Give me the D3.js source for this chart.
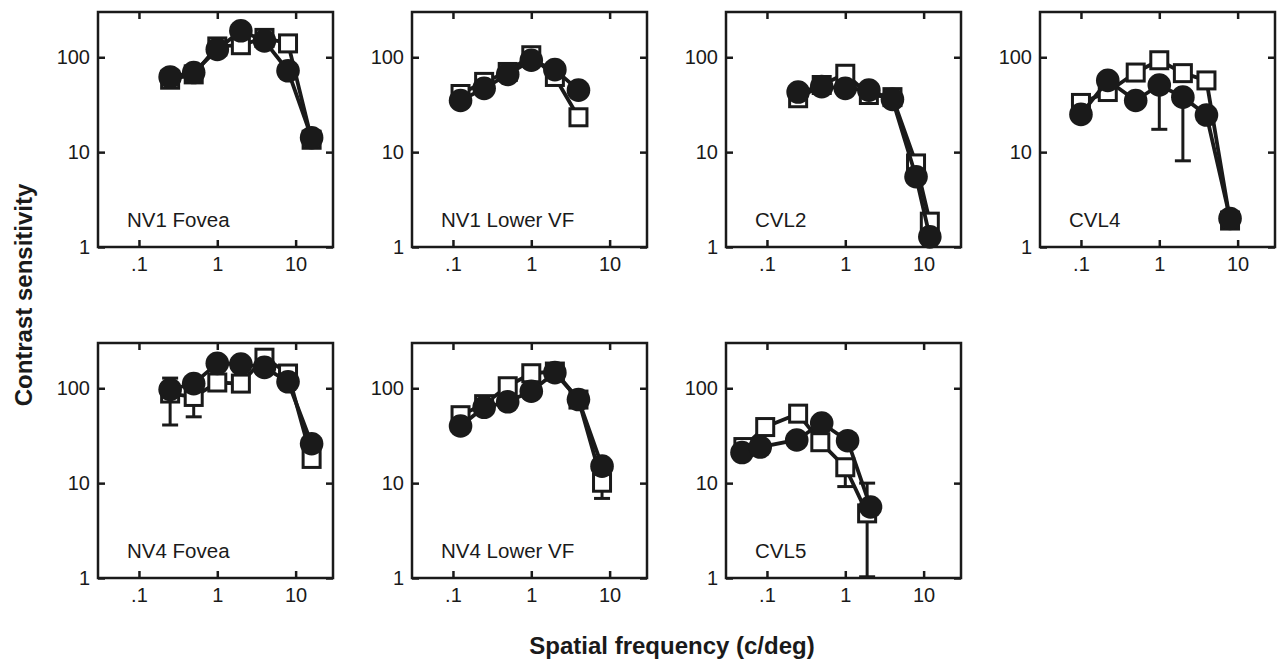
<!DOCTYPE html>
<html>
<head>
<meta charset="utf-8">
<script src="https://cdn.jsdelivr.net/npm/d3@7"></script>
<style>
  body { margin: 0; background: #fff; }
  svg { display: block; }
  text { font-family: "Liberation Sans", Arial, sans-serif; fill: #1a1a1a; }
</style>
</head>
<body>
<div id="vis"></div>
<script>
// contrast sensitivity panels, log-log, filled circles vs open squares

const PANEL_LABELS = ["NV1 Fovea", "NV1 Lower VF", "CVL2", "CVL4", "NV4 Fovea", "NV4 Lower VF", "CVL5"];
const X_TICKS = [0.1, 1, 10];
const Y_TICKS = [1, 10, 100];

// NV1 Fovea
const nv1FovSF = [0.25, 0.5, 1, 2, 4, 8, 16];
const nv1FovFilled = [62, 69, 121, 190, 149, 72, 14.2];
const nv1FovOpen = [58, 66, 130, 134, 160, 140, 13.5];

// NV1 Lower VF
const nv1LowSF = [0.125, 0.25, 0.5, 1, 2, 4];
const nv1LowFilled = [35, 47, 66, 93, 74, 45];
const nv1LowOpen = [41, 55, 70, 105, 62, 23.3];

// CVL2
const cvl2SF = [0.25, 0.5, 1, 2, 4, 8, 12];
const cvl2Filled = [43, 49, 47, 45, 36, 5.5, 1.28];
const cvl2Open = [37, 51, 67, 40, 38, 7.6, 1.85];

// CVL4
const cvl4SF = [0.1, 0.22, 0.5, 1, 2, 4, 8];
const cvl4Filled = [25, 57, 35, 51, 38, 24.6, 2.0];
const cvl4FilledLo = [null, null, null, 17.4, 8.1, null, null];
const cvl4Open = [33, 43, 69, 93, 68, 57, 1.9];

// NV4 Fovea
const nv4FovSF = [0.25, 0.5, 1, 2, 4, 8, 16];
const nv4FovFilled = [97, 112, 183, 180, 166, 117, 26];
const nv4FovOpen = [88, 81, 115, 112, 210, 143, 18];
const nv4FovOpenLo = [41, 50, null, null, null, null, null];
const nv4FovOpenHi = [128, null, null, null, null, null, null];

// NV4 Lower VF
const nv4LowSF = [0.125, 0.25, 0.5, 1, 2, 4, 8];
const nv4LowFilled = [40, 63, 72, 93, 146, 76, 15.1];
const nv4LowOpen = [52, 68, 105, 144, 150, 76, 10.1];
const nv4LowOpenLo = [null, null, null, null, null, null, 6.9];

// CVL5
const cvl5FilledSF = [0.048, 0.082, 0.24, 0.5, 1.07, 2.1];
const cvl5Filled = [21, 24, 28.5, 43, 28, 5.6];
const cvl5OpenSF = [0.05, 0.095, 0.25, 0.48, 1.0, 1.9];
const cvl5Open = [24, 39, 54, 27, 14.7, 4.8];
const cvl5OpenLo = [null, null, null, null, 9.2, 1.03];
const cvl5OpenHi = [null, null, null, null, null, 10];

const PANELS = [
  {filled: {sf: nv1FovSF, v: nv1FovFilled}, open: {sf: nv1FovSF, v: nv1FovOpen}},
  {filled: {sf: nv1LowSF, v: nv1LowFilled}, open: {sf: nv1LowSF, v: nv1LowOpen}},
  {filled: {sf: cvl2SF, v: cvl2Filled}, open: {sf: cvl2SF, v: cvl2Open}},
  {filled: {sf: cvl4SF, v: cvl4Filled, lo: cvl4FilledLo}, open: {sf: cvl4SF, v: cvl4Open}},
  {filled: {sf: nv4FovSF, v: nv4FovFilled}, open: {sf: nv4FovSF, v: nv4FovOpen, lo: nv4FovOpenLo, hi: nv4FovOpenHi}},
  {filled: {sf: nv4LowSF, v: nv4LowFilled}, open: {sf: nv4LowSF, v: nv4LowOpen, lo: nv4LowOpenLo}},
  {filled: {sf: cvl5FilledSF, v: cvl5Filled}, open: {sf: cvl5OpenSF, v: cvl5Open, lo: cvl5OpenLo, hi: cvl5OpenHi}}
];

const FRAME_WIDTH = 1277;
const FRAME_HEIGHT = 660;
const PANEL_SIZE = 235;
const PANEL_LEFT = 98, PANEL_TOP = 12;
const STEP_X = 314, STEP_Y = 331;
const INK = "#1a1a1a";

const svg = d3.select("#vis")
  .append("svg")
    .attr("width", FRAME_WIDTH)
    .attr("height", FRAME_HEIGHT);

const X_SCALE = d3.scaleLog().domain([0.03, 30]).range([0, PANEL_SIZE]);
const Y_SCALE = d3.scaleLog().domain([1, 300]).range([PANEL_SIZE, 0]);

const fmt = d => d < 1 ? String(d).replace(/^0/, "") : String(d);

function toPoints(s) {
  return s.sf.map((f, i) => ({x: f, y: s.v[i],
    lo: s.lo ? s.lo[i] : null, hi: s.hi ? s.hi[i] : null}));
}

function drawSeries(g, s, kind) {
  const pts = toPoints(s);
  // error bars first
  const cap = 8;
  pts.forEach(p => {
    [p.lo, p.hi].forEach(e => {
      if (e == null) return;
      g.append("line")
        .attr("x1", X_SCALE(p.x)).attr("x2", X_SCALE(p.x))
        .attr("y1", Y_SCALE(p.y)).attr("y2", Y_SCALE(e))
        .attr("stroke", INK).attr("stroke-width", 3);
      g.append("line")
        .attr("x1", X_SCALE(p.x) - cap).attr("x2", X_SCALE(p.x) + cap)
        .attr("y1", Y_SCALE(e)).attr("y2", Y_SCALE(e))
        .attr("stroke", INK).attr("stroke-width", 3);
    });
  });
  g.append("path")
    .datum(pts)
    .attr("fill", "none")
    .attr("stroke", INK)
    .attr("stroke-width", 3.8)
    .attr("stroke-linejoin", "round")
    .attr("d", d3.line().x(d => X_SCALE(d.x)).y(d => Y_SCALE(d.y)));
  if (kind == "open") {
    g.selectAll(null).data(pts).enter().append("rect")
      .attr("x", d => X_SCALE(d.x) - 8.5)
      .attr("y", d => Y_SCALE(d.y) - 8.5)
      .attr("width", 17).attr("height", 17)
      .attr("fill", "#fff")
      .attr("stroke", INK)
      .attr("stroke-width", 3);
  } else {
    g.selectAll(null).data(pts).enter().append("circle")
      .attr("cx", d => X_SCALE(d.x))
      .attr("cy", d => Y_SCALE(d.y))
      .attr("r", 11.8)
      .attr("fill", INK);
  }
}

function build_panel(i) {
  const col = i < 4 ? i : i - 4;
  const row = i < 4 ? 0 : 1;
  const g = svg.append("g")
    .attr("transform", "translate(" + (PANEL_LEFT + col * STEP_X) + "," + (PANEL_TOP + row * STEP_Y) + ")");

  // axes with inward ticks on all four sides
  const bottom = g.append("g").attr("transform", "translate(0," + PANEL_SIZE + ")")
    .call(d3.axisBottom(X_SCALE).tickValues(X_TICKS).tickFormat(fmt).tickSizeInner(-7).tickSizeOuter(0).tickPadding(10));
  const left = g.append("g")
    .call(d3.axisLeft(Y_SCALE).tickValues(Y_TICKS).tickFormat(fmt).tickSizeInner(-7).tickSizeOuter(0).tickPadding(8));
  const top = g.append("g")
    .call(d3.axisTop(X_SCALE).tickValues(X_TICKS).tickFormat("").tickSizeInner(-7).tickSizeOuter(0));
  const right = g.append("g").attr("transform", "translate(" + PANEL_SIZE + ",0)")
    .call(d3.axisRight(Y_SCALE).tickValues(Y_TICKS).tickFormat("").tickSizeInner(-7).tickSizeOuter(0));
  [bottom, left, top, right].forEach(a => {
    a.select(".domain").remove();
    a.selectAll(".tick line").attr("stroke", INK).attr("stroke-width", 2.5);
    a.selectAll(".tick text").attr("font-size", "20px").attr("fill", INK)
      .style("font-family", "'Liberation Sans', Arial, sans-serif");
  });

  g.append("rect")
    .attr("width", PANEL_SIZE).attr("height", PANEL_SIZE)
    .attr("fill", "none").attr("stroke", INK).attr("stroke-width", 2.5);

  g.append("text")
    .attr("x", 29).attr("y", PANEL_SIZE - 20)
    .attr("font-size", "20.5px")
    .text(PANEL_LABELS[i]);

  const plot = g.append("g");
  drawSeries(plot, PANELS[i].open, "open");
  drawSeries(plot, PANELS[i].filled, "filled");
}

PANELS.forEach((p, i) => build_panel(i));

svg.append("text")
  .attr("transform", "translate(32,295) rotate(-90)")
  .attr("text-anchor", "middle")
  .attr("font-size", "24px")
  .attr("font-weight", "bold")
  .text("Contrast sensitivity");

svg.append("text")
  .attr("x", 672).attr("y", 654)
  .attr("text-anchor", "middle")
  .attr("font-size", "24px")
  .attr("font-weight", "bold")
  .text("Spatial frequency (c/deg)");
</script>
</body>
</html>
